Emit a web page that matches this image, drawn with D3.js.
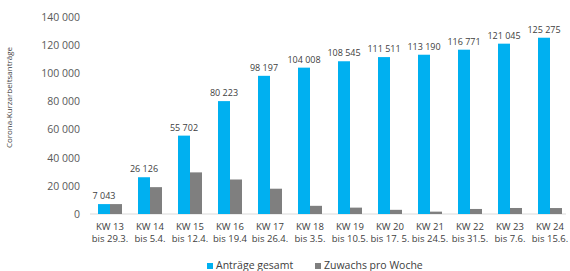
<!DOCTYPE html>
<html lang="de">
<head>
    <meta charset="UTF-8">
    <title>Corona-Kurzarbeitsanträge</title>
    <script src="https://d3js.org/d3.v7.min.js" charset="utf-8"></script>
    <style>
        body, html {
            margin: 0;
            padding: 0;
            background: #ffffff;
            overflow: hidden;
        }
        text {
            font-family: "Open Sans", "Liberation Sans", sans-serif;
        }
    </style>
</head>
<body>
    <svg id="chart"></svg>

    <script>
        // data
        const weeks = ['KW 13', 'KW 14', 'KW 15', 'KW 16', 'KW 17', 'KW 18',
                       'KW 19', 'KW 20', 'KW 21', 'KW 22', 'KW 23', 'KW 24'];
        const periods = ['bis 29.3.', 'bis 5.4.', 'bis 12.4.', 'bis 19.4', 'bis 26.4.', 'bis 3.5.',
                         'bis 10.5.', 'bis 17. 5.', 'bis 24.5.', 'bis 31.5.', 'bis 7.6.', 'bis 15.6.'];
        const total = [7043, 26126, 55702, 80223, 98197, 104008,
                       108545, 111511, 113190, 116771, 121045, 125275];
        const weekly = [7043, 19083, 29576, 24521, 17974, 5811,
                        4537, 2966, 1679, 3581, 4274, 4230];
        const seriesNames = ['Anträge gesamt', 'Zuwachs pro Woche'];
        const yTicks = [0, 20000, 40000, 60000, 80000, 100000, 120000, 140000];

        const width = 570;
        const height = 271;

        const svg = d3.select('#chart')
            .attr('width', width)
            .attr('height', height);

        const color = d3.scaleOrdinal()
            .domain(seriesNames)
            .range(['#00b0f0', '#7f7f7f']);

        const fmt = d3.formatLocale({ decimal: ',', thousands: ' ', grouping: [3], currency: ['', ''] }).format(',d');

        const rows = weeks.map((w, i) => ({ week: w, period: periods[i], values: [total[i], weekly[i]] }));

        // scales
        const x0 = d3.scaleBand()
            .domain(weeks)
            .range([90, 570])
            .paddingInner(0.4)
            .paddingOuter(0.2);

        const x1 = d3.scaleBand()
            .domain(seriesNames)
            .range([0, x0.bandwidth()]);

        const y = d3.scaleLinear()
            .domain([0, 140000])
            .range([214, 17]);

        // y axis
        const yAxisGroup = svg.append('g')
            .attr('transform', 'translate(80,0)')
            .call(d3.axisLeft(y).tickValues(yTicks).tickSize(0).tickPadding(0).tickFormat(fmt));
        yAxisGroup.select('.domain').remove();
        yAxisGroup.selectAll('text')
            .style('font-size', '10.5px')
            .style('fill', '#595959');

        svg.append('text')
            .attr('transform', `translate(12,${(40 + 155) / 2}) rotate(-90)`)
            .attr('text-anchor', 'middle')
            .style('font-size', '8px')
            .style('fill', '#404040')
            .text('Corona-Kurzarbeitsanträge');

        // baseline
        svg.append('line')
            .attr('x1', x0.range()[0])
            .attr('x2', x0.range()[1] - 4)
            .attr('y1', y(0))
            .attr('y2', y(0))
            .style('stroke', '#d9d9d9')
            .style('stroke-width', 1);

        // bars
        const groups = svg.append('g')
            .selectAll('g')
            .data(rows)
            .join('g')
            .attr('transform', d => `translate(${x0(d.week)},0)`);

        groups.selectAll('rect')
            .data(d => d.values.map((v, k) => ({ key: seriesNames[k], value: v })))
            .join('rect')
            .attr('x', d => x1(d.key))
            .attr('y', d => y(d.value))
            .attr('width', x1.bandwidth())
            .attr('height', d => y(0) - y(d.value))
            .style('fill', d => color(d.key));

        // value labels above blue bars
        groups.append('text')
            .attr('x', x1(seriesNames[0]) + x1.bandwidth() / 2)
            .attr('y', d => y(d.values[0]) - 5)
            .attr('text-anchor', 'middle')
            .style('font-size', '9px')
            .style('fill', '#404040')
            .text(d => fmt(d.values[0]));

        // x axis with two line labels
        const xAxisGroup = svg.append('g')
            .attr('transform', `translate(0,${y(0)})`)
            .call(d3.axisBottom(x0).tickSize(0).tickPadding(0));
        xAxisGroup.select('.domain').remove();
        xAxisGroup.selectAll('.tick text').each(function(d, i) {
            const t = d3.select(this).text(null)
                .attr('y', null)
                .attr('dy', null)
                .style('font-size', '9.5px')
                .style('fill', '#404040');
            t.append('tspan').attr('x', 0).attr('y', 16).text(d);
            t.append('tspan').attr('x', 0).attr('y', 28).text(periods[i]);
        });

        // legend
        const legend = svg.append('g')
            .attr('transform', 'translate(207,266)');
        const legendX = [0, 108];
        const items = legend.selectAll('g')
            .data(seriesNames)
            .join('g')
            .attr('transform', (d, i) => `translate(${legendX[i]},0)`);
        items.append('rect')
            .attr('x', 0)
            .attr('y', -3)
            .attr('width', 6)
            .attr('height', 6)
            .style('fill', color);
        items.append('text')
            .attr('x', 9)
            .attr('y', 0)
            .attr('dominant-baseline', 'middle')
            .style('font-size', '10.5px')
            .style('fill', '#404040')
            .text(d => d);
    </script>
</body>
</html>
